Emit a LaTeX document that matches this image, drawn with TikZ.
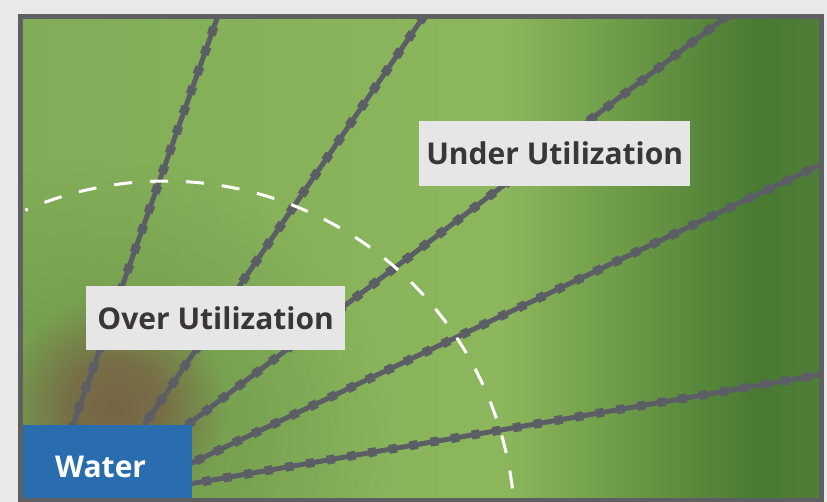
\documentclass[tikz,border=0pt]{standalone}
\usepackage{fontspec}
\setmainfont{Open Sans}
\usetikzlibrary{fadings}
\definecolor{outerbg}{HTML}{E9E9E9}
\definecolor{framec}{HTML}{5E5F63}
\definecolor{linec}{HTML}{5C5E66}
\definecolor{waterc}{HTML}{2A6DAE}
\definecolor{labelbg}{HTML}{E6E6E6}
\definecolor{labeltext}{HTML}{3A3636}
\definecolor{blobc}{HTML}{786546}
\definecolor{shadowc}{RGB}{104,145,70}
\definecolor{ga}{RGB}{130,172,88}
\definecolor{gb}{RGB}{134,177,90}
\definecolor{gc}{RGB}{141,183,92}
\definecolor{gd}{RGB}{112,157,73}
\definecolor{ge}{RGB}{72,122,50}
\definecolor{gf}{RGB}{80,126,56}
\pgfdeclarehorizontalshading{fieldshade}{100bp}{color(0bp)=(ga); color(25bp)=(ga); color(39bp)=(gb); color(55bp)=(gc); color(62bp)=(gd); color(71bp)=(ge); color(75bp)=(gf); color(100bp)=(gf)}
\pgfdeclareradialshading{blobfadeshade}{\pgfpointorigin}{color(0bp)=(pgftransparent!0); color(10bp)=(pgftransparent!15); color(25bp)=(pgftransparent!100); color(50bp)=(pgftransparent!100)}
\pgfdeclarefading{blobfade}{\pgfuseshading{blobfadeshade}}
\pgfdeclareradialshading{shadowfadeshade}{\pgfpointorigin}{color(0bp)=(pgftransparent!40); color(12bp)=(pgftransparent!55); color(25bp)=(pgftransparent!100); color(50bp)=(pgftransparent!100)}
\pgfdeclarefading{shadowfade}{\pgfuseshading{shadowfadeshade}}
\tikzset{
  pipe/.style={linec, line width=5pt},
  beads/.style={linec, line width=9pt, dash pattern=on 8pt off 13pt},
  arcdash/.style={white, line width=3pt, dash pattern=on 18pt off 18pt},
  labelbox/.style={fill=labelbg, draw=none, text=labeltext, font=\fontsize{30}{36}\selectfont\bfseries, inner sep=0pt},
}
\begin{document}
\begin{tikzpicture}[x=1pt,y=-1pt]
\path[use as bounding box] (0,0) rectangle (827,502);
\fill[outerbg] (0,0) rectangle (827,502);
\shade[shading=fieldshade] (20,16) rectangle (822,500);
\begin{scope}
\clip (23,19) rectangle (819,498);
\fill[shadowc, path fading=shadowfade] (110,440) circle (280);
\fill[blobc, path fading=blobfade] (115,408) circle (112);
\coordinate (h1) at (50,490);  \coordinate (t1) at (220,10);
\coordinate (h2) at (100,490); \coordinate (t2) at (428,10);
\coordinate (h3) at (120,476); \coordinate (t3) at (735,10);
\coordinate (h4) at (120,497); \coordinate (t4) at (830,160);
\coordinate (h5) at (120,496); \coordinate (t5) at (830,373);
\foreach \i in {1,...,5}{
  \draw[pipe] (h\i) -- (t\i);
  \draw[beads] (h\i) -- (t\i);
}
\coordinate (arcA) at (512.4,488.4);
\draw[arcdash] (arcA) arc[start angle=-7, end angle=-113.5, radius=350];
\end{scope}
\node[labelbox, minimum width=271pt, minimum height=65pt, anchor=north west] (under) at (419,121) {Under Utilization};
\node[labelbox, minimum width=259pt, minimum height=64pt, anchor=north west] (over) at (86,286) {Over Utilization};
\node[fill=waterc, minimum width=169pt, minimum height=73pt, anchor=north west, inner sep=0pt] (waterbox) at (23,425) {};
\node[anchor=base west, text=white, font=\fontsize{30}{36}\selectfont\bfseries, inner sep=0pt] (water) at (55,477) {Water};
\draw[framec, line width=5pt] (20.5,16.5) rectangle (821,500);
\end{tikzpicture}
\end{document}
